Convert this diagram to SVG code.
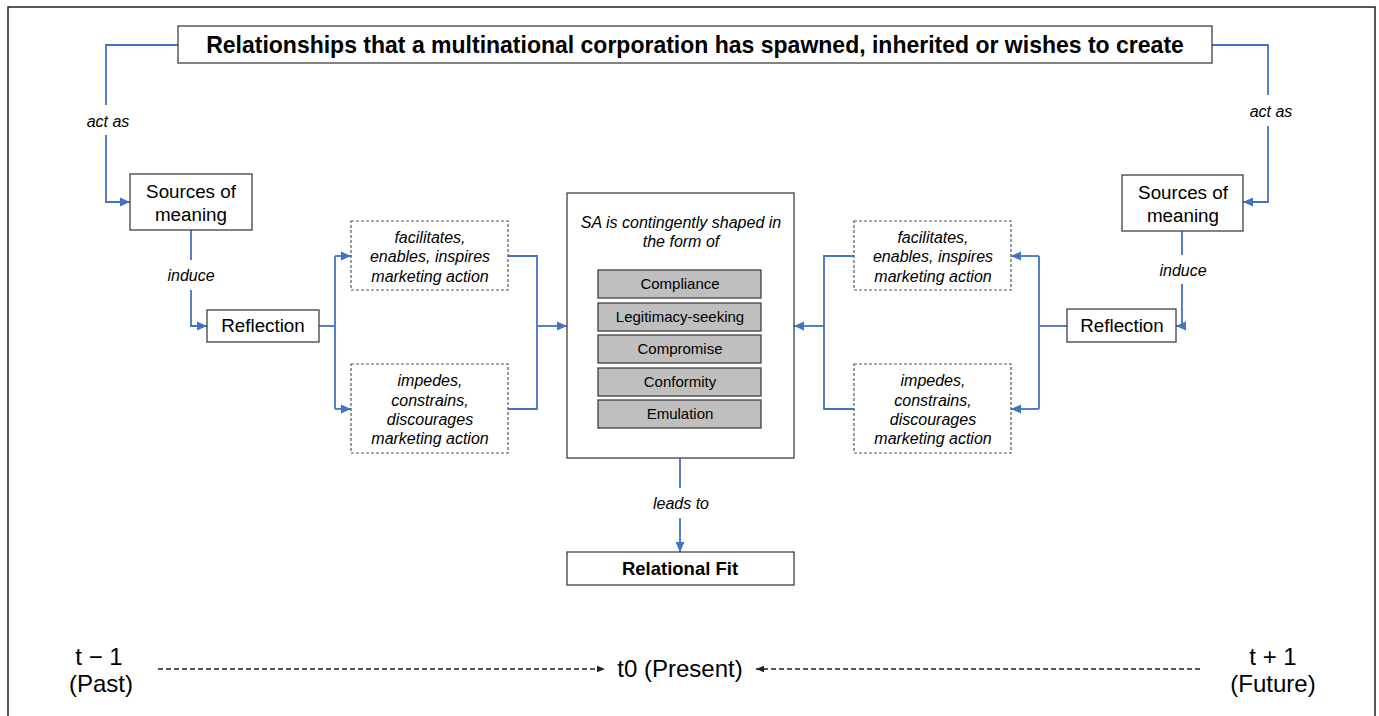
<svg xmlns="http://www.w3.org/2000/svg" width="1379" height="716" viewBox="0 0 1379 716">
<style>
text{font-family:"Liberation Sans",Arial,sans-serif;fill:#000;text-anchor:middle}
.box{fill:#fff;stroke:#404040;stroke-width:1.3}
.dbox{fill:#fff;stroke:#555;stroke-width:1.2;stroke-dasharray:3,2}
.gbox{fill:#bfbfbf;stroke:#404040;stroke-width:1.3}
.conn{fill:none;stroke:#4472C4;stroke-width:1.8}
.tl{fill:none;stroke:#222;stroke-width:1.5;stroke-dasharray:5,3}
.lbl{font-style:italic;font-size:16px}
.it{font-style:italic;font-size:16px}
.n{font-size:18.8px}
.g{font-size:15px}
.t{font-size:24px}
</style>
<defs>
<marker id="ab" markerUnits="userSpaceOnUse" markerWidth="10" markerHeight="10" viewBox="0 0 10 10" refX="10" refY="5" orient="auto"><path d="M0,0.5 L10,5 L0,9.5 Z" fill="#4472C4"/></marker>
<marker id="ak" markerUnits="userSpaceOnUse" markerWidth="8" markerHeight="8" viewBox="0 0 10 10" refX="10" refY="5" orient="auto"><path d="M0,1 L10,5 L0,9 Z" fill="#222"/></marker>
</defs>
<rect x="8" y="7" width="1367" height="720" fill="#fff" stroke="#222" stroke-width="1.5"/>

<g id="connectors">
<path class="conn" d="M178,45 H106 V105"/>
<path class="conn" d="M106,135 V202 H130" marker-end="url(#ab)"/>
<path class="conn" d="M191,230 V260"/>
<path class="conn" d="M191,290 V326 H207" marker-end="url(#ab)"/>
<path class="conn" d="M319,326 H335"/>
<path class="conn" d="M335,256 V409"/>
<path class="conn" d="M335,256 H351" marker-end="url(#ab)"/>
<path class="conn" d="M335,409 H351" marker-end="url(#ab)"/>
<path class="conn" d="M508,256 H537 V409 H508"/>
<path class="conn" d="M537,326 H567" marker-end="url(#ab)"/>
<path class="conn" d="M1212,45 H1268 V95"/>
<path class="conn" d="M1268,126 V202 H1243" marker-end="url(#ab)"/>
<path class="conn" d="M1182,231 V255"/>
<path class="conn" d="M1182,284 V326 H1176" marker-end="url(#ab)"/>
<path class="conn" d="M1067,326 H1039"/>
<path class="conn" d="M1039,256 V409"/>
<path class="conn" d="M1039,256 H1011" marker-end="url(#ab)"/>
<path class="conn" d="M1039,409 H1011" marker-end="url(#ab)"/>
<path class="conn" d="M854,256 H824 V409 H854"/>
<path class="conn" d="M824,326 H794" marker-end="url(#ab)"/>
<path class="conn" d="M680,458 V488"/>
<path class="conn" d="M680,518 V552" marker-end="url(#ab)"/>
<text class="lbl" x="108" y="127">act as</text>
<text class="lbl" x="1271" y="117">act as</text>
<text class="lbl" x="191" y="281">induce</text>
<text class="lbl" x="1183" y="276">induce</text>
<text class="lbl" x="681" y="509">leads to</text>
</g>

<g id="title">
<rect class="box" x="178" y="26" width="1034" height="37"/>
<text x="695" y="53" font-size="23" font-weight="bold">Relationships that a multinational corporation has spawned, inherited or wishes to create</text>
</g>

<g id="sources-left">
<rect class="box" x="130" y="174" width="122" height="56"/>
<text class="n" x="191" y="198">Sources of</text>
<text class="n" x="191" y="221">meaning</text>
</g>
<g id="sources-right">
<rect class="box" x="1122" y="175" width="121" height="56"/>
<text class="n" x="1183" y="199">Sources of</text>
<text class="n" x="1183" y="222">meaning</text>
</g>

<g id="reflection-left">
<rect class="box" x="207" y="310" width="112" height="32"/>
<text class="n" x="263" y="332">Reflection</text>
</g>
<g id="reflection-right">
<rect class="box" x="1067" y="309" width="109" height="33"/>
<text class="n" x="1122" y="332">Reflection</text>
</g>

<g id="facilitates-left">
<rect class="dbox" x="351" y="221" width="157" height="69"/>
<text class="it" x="430" y="243">facilitates,</text>
<text class="it" x="430" y="262">enables, inspires</text>
<text class="it" x="430" y="282">marketing action</text>
</g>
<g id="impedes-left">
<rect class="dbox" x="351" y="364" width="157" height="89"/>
<text class="it" x="430" y="386">impedes,</text>
<text class="it" x="430" y="406">constrains,</text>
<text class="it" x="430" y="425">discourages</text>
<text class="it" x="430" y="444">marketing action</text>
</g>
<g id="facilitates-right">
<rect class="dbox" x="854" y="221" width="157" height="69"/>
<text class="it" x="933" y="243">facilitates,</text>
<text class="it" x="933" y="262">enables, inspires</text>
<text class="it" x="933" y="282">marketing action</text>
</g>
<g id="impedes-right">
<rect class="dbox" x="854" y="364" width="157" height="89"/>
<text class="it" x="933" y="386">impedes,</text>
<text class="it" x="933" y="406">constrains,</text>
<text class="it" x="933" y="425">discourages</text>
<text class="it" x="933" y="444">marketing action</text>
</g>

<g id="sa">
<rect class="box" x="567" y="193" width="227" height="265" stroke="#333" stroke-width="1.5"/>
<text class="it" x="681" y="228">SA is contingently shaped in</text>
<text class="it" x="681" y="247">the form of</text>
<rect class="gbox" x="598" y="270" width="163" height="28"/>
<text class="g" x="680" y="289">Compliance</text>
<rect class="gbox" x="598" y="303" width="163" height="28"/>
<text class="g" x="680" y="322">Legitimacy-seeking</text>
<rect class="gbox" x="598" y="335" width="163" height="28"/>
<text class="g" x="680" y="354">Compromise</text>
<rect class="gbox" x="598" y="368" width="163" height="28"/>
<text class="g" x="680" y="387">Conformity</text>
<rect class="gbox" x="598" y="400" width="163" height="28"/>
<text class="g" x="680" y="419">Emulation</text>
</g>

<g id="relational-fit">
<rect class="box" x="567" y="552" width="227" height="33"/>
<text x="680" y="575" font-size="18.5" font-weight="bold">Relational Fit</text>
</g>

<g id="timeline">
<path class="tl" d="M158,669 H605" marker-end="url(#ak)"/>
<path class="tl" d="M1200,669 H756" marker-end="url(#ak)"/>
<text class="t" x="99" y="665">t − 1</text>
<text class="t" x="101" y="692">(Past)</text>
<text class="t" x="680" y="677">t0 (Present)</text>
<text class="t" x="1273" y="665">t + 1</text>
<text class="t" x="1273" y="692">(Future)</text>
</g>
</svg>
